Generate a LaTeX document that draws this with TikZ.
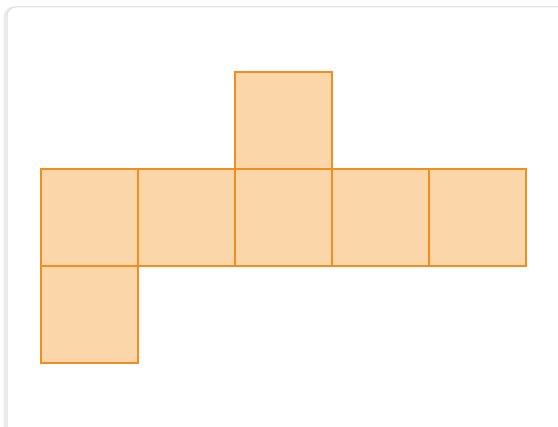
\documentclass[tikz,border=0pt]{standalone}
\definecolor{sqfill}{RGB}{251,214,168}
\definecolor{sqline}{RGB}{242,142,32}
\definecolor{cardline}{RGB}{224,224,224}
\definecolor{cardshadow}{RGB}{236,236,236}
\tikzset{
  sq/.style={draw=sqline, fill=sqfill, line width=2pt, minimum size=97pt, inner sep=0pt, outer sep=0pt},
}
\begin{document}
\begin{tikzpicture}[x=1pt,y=-1pt]
\useasboundingbox (0,0) rectangle (558,427);
\fill[white] (0,0) rectangle (558,427);
\begin{scope}
\clip (0,0) rectangle (558,427);
\draw[cardshadow, line width=3pt, rounded corners=9pt] (5,8) rectangle (580,450);
\draw[cardline, line width=1pt, rounded corners=9pt, fill=white] (7,7) rectangle (580,450);
\end{scope}
\node[sq] (t)  at (283.5,120.5) {};
\node[sq] (m1) at (89.5,217.5) {};
\node[sq] (m2) at (186.5,217.5) {};
\node[sq] (m3) at (283.5,217.5) {};
\node[sq] (m4) at (380.5,217.5) {};
\node[sq] (m5) at (477.5,217.5) {};
\node[sq] (b)  at (89.5,314.5) {};
\end{tikzpicture}
\end{document}
